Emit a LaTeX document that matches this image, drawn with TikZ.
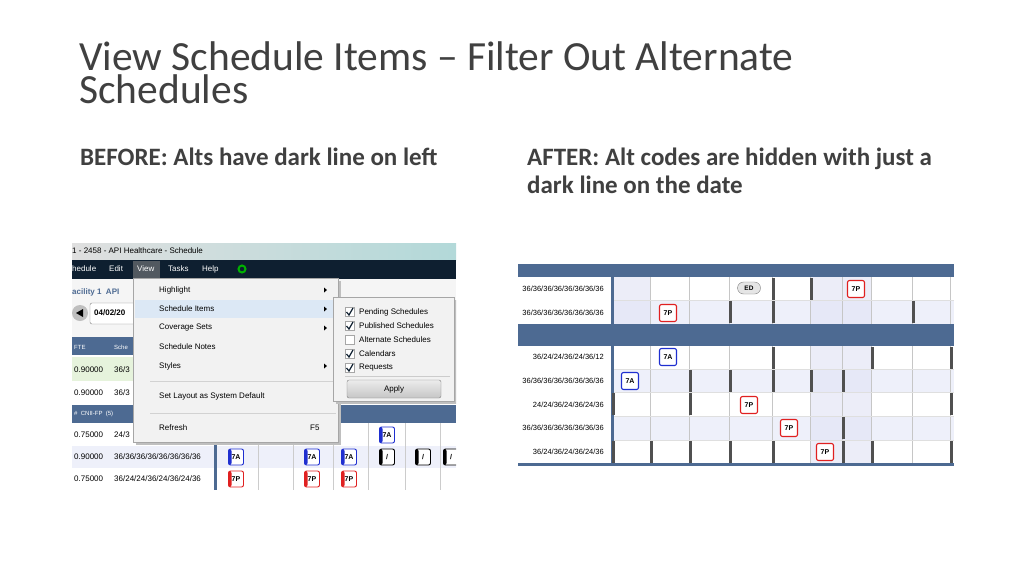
\documentclass[tikz,border=0pt]{standalone}
\usepackage{fontspec}
\setmainfont{Carlito}
\newfontfamily\uifont{Liberation Sans}
\usetikzlibrary{positioning}
\definecolor{titlegray}{HTML}{404040}
\definecolor{navy}{HTML}{0E1F30}
\definecolor{gridblue}{HTML}{4D6A92}
\definecolor{menubg}{HTML}{F2F2F2}
\definecolor{hilite}{HTML}{DCE8F5}
\definecolor{rowtint}{HTML}{EEF0FA}
\definecolor{colshade}{HTML}{E4E6F6}
\definecolor{greenrow}{HTML}{E6F3DC}
\definecolor{badgeblue}{HTML}{1F2FD0}
\definecolor{badgered}{HTML}{E02020}
\definecolor{markgray}{HTML}{505050}
\tikzset{
  ui/.style={font=\uifont\fontsize{8}{9}\selectfont, inner sep=0pt, anchor=west},
  code/.style={draw=#1, line width=1.1pt, rounded corners=2pt, fill=white,
    minimum width=17pt, minimum height=17pt, inner sep=0pt,
    font=\uifont\bfseries\fontsize{7}{8}\selectfont},
  alt/.style={draw=#1, line width=0.9pt, rounded corners=2pt, fill=white,
    minimum width=15pt, minimum height=16pt, inner sep=0pt,
    font=\uifont\bfseries\fontsize{7}{8}\selectfont,
    path picture={\fill[#1] (path picture bounding box.north west) rectangle ([xshift=3pt]path picture bounding box.south west);}},
  datemark/.style={fill=markgray}
}
\begin{document}
\begin{tikzpicture}[x=1pt,y=-1pt]
\useasboundingbox[fill=white] (0,0) rectangle (1024,576);
% title and captions
\node[anchor=base west, inner sep=0pt, text=titlegray, font=\fontsize{41.5}{33}\selectfont, align=left] (title) at (79,103)
  {View Schedule Items -- Filter Out Alternate\\Schedules};
\node[anchor=base west, inner sep=0pt, font=\bfseries\fontsize{25}{28}\selectfont, text=titlegray] (before) at (80,165)
  {BEFORE: Alts have dark line on left};
\node[anchor=base west, inner sep=0pt, font=\bfseries\fontsize{25}{28}\selectfont, text=titlegray, align=left] (after) at (527,193)
  {AFTER: Alt codes are hidden with just a\\dark line on the date};
%
% ---- before screenshot ----
\begin{scope}
\clip (72,243) rectangle (456,490);
\fill[white] (72,243) rectangle (456,490);
\shade[left color=gray!25, right color=teal!30] (72,243) rectangle (456,260);
\node[ui] at (72,251) {1 - 2458 - API Healthcare - Schedule};
\fill[navy] (72,260) rectangle (456,279);
\fill[gray!60!navy] (133,261) rectangle (160,278);
\foreach \x/\t in {72/hedule,109/Edit,137/View,168/Tasks,202/Help}
  \node[ui, text=white] at (\x,269) {\t};
\draw[green!70!black, line width=2pt] (242,269) circle (3.5pt);
\fill[gray!8] (72,279) rectangle (456,337);
\node[ui, text=gridblue, font=\uifont\bfseries\fontsize{8}{9}\selectfont] at (72,292) {acility 1\ \ API};
\fill[gray!50] (80,313) circle (8pt);
\fill[black] (76,313) -- (83,309) -- (83,317) -- cycle;
\draw[gray, fill=white, rounded corners=2pt] (90,303) rectangle (140,324);
\node[ui, font=\uifont\bfseries\fontsize{8}{9}\selectfont] at (94,313) {04/02/20};
\fill[gridblue] (72,337) rectangle (456,355);
\node[ui, text=white, font=\uifont\fontsize{6}{7}\selectfont] at (74,347) {FTE};
\node[ui, text=white, font=\uifont\fontsize{6}{7}\selectfont] at (114,347) {Sche};
\fill[greenrow] (72,357) rectangle (456,381);
\node[ui] at (74,370) {0.90000};
\node[ui] at (114,370) {36/3};
\node[ui] at (74,393) {0.90000};
\node[ui] at (114,393) {36/3};
\fill[gridblue] (72,405) rectangle (456,423);
\node[ui, text=white, font=\uifont\fontsize{6}{7}\selectfont] at (74,414) {\# \ CNII-FP \ (5)};
\fill[rowtint] (72,446) rectangle (456,468);
\node[ui] at (74,435) {0.75000};
\node[ui] at (114,435) {24/3};
\node[ui] at (74,457) {0.90000};
\node[ui] at (114,457) {36/36/36/36/36/36/36/36};
\node[ui] at (74,479) {0.75000};
\node[ui] at (114,479) {36/24/24/36/24/36/24/36};
\fill[gridblue] (214,423) rectangle (217,490);
\foreach \x in {258,293,333,368,405,440}
  \draw[gray!40] (\x,423) -- (\x,490);
\node[alt=badgeblue] at (236,457) {7A};
\node[alt=badgeblue] at (312,457) {7A};
\node[alt=badgeblue] at (349,457) {7A};
\node[alt=badgeblue] at (387,435) {7A};
\node[alt=badgered] at (236,479) {7P};
\node[alt=badgered] at (312,479) {7P};
\node[alt=badgered] at (349,479) {7P};
\foreach \x in {387,423,451}
  \node[alt=black] at (\x,457) {/};
% view menu
\fill[black!25] (136,281) rectangle (341,445);
\draw[gray!70, fill=menubg] (133,278) rectangle (338,442);
\fill[hilite] (135,300) rectangle (336,318);
\draw[gray!35] (150,381) -- (336,381) (150,413) -- (336,413);
\foreach \y/\t in {290/Highlight,309/Schedule Items,328/Coverage Sets,347/Schedule Notes,366/Styles,396/Set Layout as System Default,428/Refresh}
  \node[ui] at (159,\y) {\t};
\node[ui] at (310,428) {F5};
\foreach \y in {290,309,328,366}
  \fill (324,\y-2.5) -- (327,\y) -- (324,\y+2.5) -- cycle;
% submenu
\fill[black!25] (336,300) rectangle (457,404);
\draw[gray!70, fill=menubg] (333,297) rectangle (454,401);
\foreach \y/\t/\c in {312/Pending Schedules/1,326/Published Schedules/1,340/Alternate Schedules/0,354/Calendars/1,368/Requests/1}{
  \draw[gray!70, fill=white] (345,\y-4.5) rectangle (354,\y+4.5);
  \ifnum\c=1 \draw[navy, line width=1.2pt] (346.5,\y) -- (349,\y+3) -- (353,\y-4); \fi
  \node[ui] at (359,\y) {\t};
}
\draw[gray!40] (345,376) -- (450,376);
\shade[top color=gray!15, bottom color=gray!45, draw=gray, rounded corners=2pt] (347,380) rectangle (441,398);
\node[ui, anchor=center] at (394,389) {Apply};
\end{scope}
%
% ---- after screenshot ----
\begin{scope}
\clip (518,264) rectangle (954,466);
\fill[white] (518,264) rectangle (954,466);
\fill[gridblue] (518,264) rectangle (954,277);
\fill[gridblue] (518,324) rectangle (954,346);
\fill[gridblue] (518,463) rectangle (954,466);
\foreach \a/\b in {300/324,369/392,416/440}
  \fill[rowtint] (614,\a) rectangle (954,\b);
\fill[colshade, opacity=.7] (614,277) rectangle (650,324);
\fill[colshade, opacity=.7] (810,277) rectangle (871,324);
\fill[colshade, opacity=.7] (810,346) rectangle (871,463);
\fill[gridblue] (611,264) rectangle (614,466);
\foreach \x in {650,689,729,772,810,842,871,912,950}{
  \draw[gray!45] (\x,277) -- (\x,324);
  \draw[gray!45] (\x,346) -- (\x,463);
}
\foreach \y in {300,369,392,416,440}
  \draw[gray!25] (614,\y) -- (954,\y);
\foreach \y/\t in {289/{36/36/36/36/36/36/36/36},313/{36/36/36/36/36/36/36/36},357/{36/24/24/36/24/36/12},381/{36/36/36/36/36/36/36/36},405/{24/24/36/24/36/24/36},428/{36/36/36/36/36/36/36/36},452/{36/24/36/24/36/24/36}}
  \node[ui, anchor=east, font=\uifont\fontsize{7.5}{9}\selectfont] at (604,\y) {\t};
% dark date lines
\foreach \ytop/\xs in {277/{772,810},300/{729,772,912},346/{772,871,950},369/{689,729,772,810,842},392/{612,689,950},416/{842},440/{612,650,689,729,772,842,871,950}}{
  \foreach \x in \xs
    \fill[datemark] (\x,\ytop+1) rectangle (\x+3,\ytop+23);
}
\node[draw=gray, fill=gray!20, rounded corners=6pt, minimum width=23pt, minimum height=12pt, inner sep=0pt, font=\uifont\bfseries\fontsize{6.5}{8}\selectfont] at (749,288) {ED};
\node[code=badgered] at (856,289) {7P};
\node[code=badgered] at (668,313) {7P};
\node[code=badgeblue] at (668,357) {7A};
\node[code=badgeblue] at (630,381) {7A};
\node[code=badgered] at (749,405) {7P};
\node[code=badgered] at (789,428) {7P};
\node[code=badgered] at (825,452) {7P};
\end{scope}
\end{tikzpicture}
\end{document}
